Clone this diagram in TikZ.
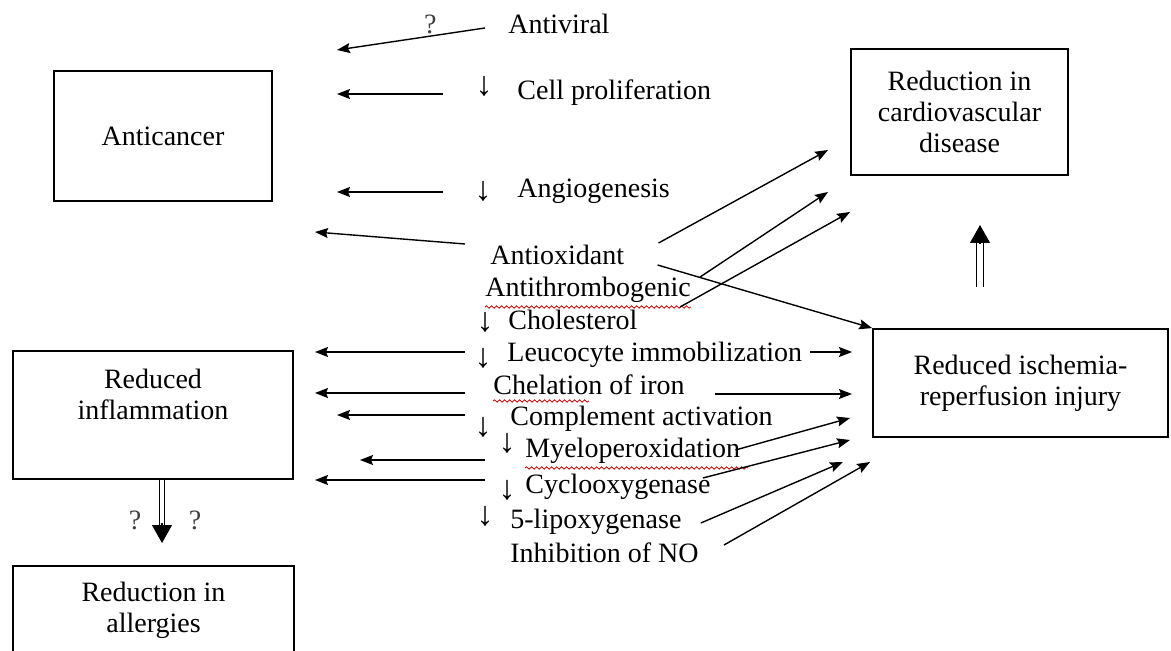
\documentclass[tikz,border=0pt]{standalone}
\usepackage{fontspec}
\setmainfont{Liberation Serif}
\usetikzlibrary{positioning,arrows.meta,calc,decorations.pathmorphing}
\tikzset{
  bloc/.style       = {draw, line width=0.9pt, align=center, inner sep=2pt,
                       font=\fontsize{14}{15.5}\selectfont},
  eticheta/.style   = {inner sep=0pt, anchor=base west, text height=10pt, text depth=3pt,
                       font=\fontsize{14}{16}\selectfont},
  jos/.style        = {inner sep=0pt, font=\fontsize{17}{17}\selectfont},
  intrebare/.style  = {inner sep=1pt, text=black!75, font=\fontsize{14}{14}\selectfont},
  sageata/.style    = {-{Stealth[length=6.5pt, width=5pt, inset=1pt]}, line width=0.7pt},
  dublu/.style      = {double, double distance=2.6pt, line width=0.6pt},
  varf/.style       = {-{Triangle[length=9pt, width=10pt]}, line width=0.6pt},
  ondulat/.style    = {red!80!black, line width=0.4pt, decorate,
                       decoration={snake, amplitude=0.6pt, segment length=2.5pt}}
}
\begin{document}
\begin{tikzpicture}[x=0.5pt, y=-0.5pt]
        \useasboundingbox (0,0) rectangle (1171,651);
        \clip (0,0) rectangle (1171,651);

        \node[bloc, minimum width=109pt, minimum height=65pt] (ac) at (163,136) {Anticancer};
        \node[bloc, minimum width=140pt, minimum height=64pt] (inf) at (153,415) {Reduced\\ inflammation\\[5pt]\mbox{}};
        \node[bloc, minimum width=140.5pt, minimum height=44pt] (alg) at (153.5,610) {Reduction in\\ allergies};
        \node[bloc, minimum width=108.5pt, minimum height=63pt] (cv) at (959.5,112) {Reduction in\\ cardiovascular\\ disease};
        \node[bloc, minimum width=147.5pt, minimum height=54pt] (isc) at (1020.5,383) {Reduced ischemia-\\ reperfusion injury};

        \node[eticheta] (antiviral) at (508,34) {Antiviral};
        \node[eticheta] (prolif) at (517,100) {Cell proliferation};
        \node[eticheta] (angio) at (517,198) {Angiogenesis};
        \node[eticheta] (antiox) at (490,265) {Antioxidant};
        \node[eticheta] (antitr) at (485,297) {Antithrombogenic};
        \node[eticheta] (chol) at (508,330) {Cholesterol};
        \node[eticheta] (leuco) at (507,362) {Leucocyte immobilization};
        \node[eticheta] (chel) at (493,395) {Chelation of iron};
        \node[eticheta] (compl) at (510,426) {Complement activation};
        \node[eticheta] (myelo) at (525,458) {Myeloperoxidation};
        \node[eticheta] (cyclo) at (525,493) {Cyclooxygenase};
        \node[eticheta] (lipo) at (510,528) {5-lipoxygenase};
        \node[eticheta] (no) at (510,562) {Inhibition of NO};

        \node[jos] (d1) at (484,86) {↓};
        \node[jos] (d2) at (483,191) {↓};
        \node[jos] (d3) at (485,322) {↓};
        \node[jos] (d4) at (483,358) {↓};
        \node[jos] (d5) at (483,427) {↓};
        \node[jos] (d6) at (507,443) {↓};
        \node[jos] (d7) at (507,490) {↓};
        \node[jos] (d8) at (485,516) {↓};

        \draw[ondulat] ($(antitr.base west)+(0,-5pt)$) -- ($(antitr.base east)+(0,-5pt)$);
        \draw[ondulat] ($(chel.base west)+(0,-3pt)$) -- ($(chel.base west)+(48pt,-3pt)$);
        \draw[ondulat] ($(myelo.base west)+(0,-5pt)$) -- ($(myelo.base east)+(4pt,-5pt)$);

        \coordinate (xa) at (337,0);
        \coordinate (xb) at (315,0);
        \coordinate (xc) at (360,0);
        \coordinate (av) at (337,50);
        \coordinate (ao) at (315,232);
        \coordinate (c1) at (828,150);
        \coordinate (c2) at (828,192);
        \coordinate (c3) at (850,212);
        \coordinate (r1) at (852,352);
        \coordinate (r2) at (852,394);
        \coordinate (r3) at (850,418);
        \coordinate (r4) at (850,440);
        \coordinate (r5) at (843,462);
        \coordinate (r6) at (870,462);
        \coordinate (s1) at (980,287);
        \coordinate (s2) at (980,225);
        \coordinate (j1) at (162,543);

        \draw[sageata] ($(antiviral.base west)+(-11.5pt,3pt)$) -- node[intrebare, pos=0.37, above=0pt] (q1) {?} (av);
        \draw[sageata] ($(prolif.base west)+(-37pt,3pt)$) -- ($(xa |- prolif.base west)+(0,3pt)$);
        \draw[sageata] ($(angio.base west)+(-37pt,3pt)$) -- ($(xa |- angio.base west)+(0,3pt)$);
        \draw[sageata] ($(antiox.base west)+(-12.5pt,10.5pt)$) -- (ao);
        \draw[sageata] ($(leuco.base west)+(-21pt,5pt)$) -- ($(xb |- leuco.base west)+(0,5pt)$);
        \draw[sageata] ($(chel.base west)+(-14pt,1pt)$) -- ($(xb |- chel.base west)+(0,1pt)$);
        \draw[sageata] ($(compl.base west)+(-22.5pt,5.5pt)$) -- ($(xa |- compl.base west)+(0,5.5pt)$);
        \draw[sageata] ($(myelo.base west)+(-20pt,-1pt)$) -- ($(xc |- myelo.base west)+(0,-1pt)$);
        \draw[sageata] ($(cyclo.base west)+(-20pt,6.5pt)$) -- ($(xb |- cyclo.base west)+(0,6.5pt)$);

        \draw[sageata] ($(antiox.base east)+(17pt,11pt)$) -- (c1);
        \draw[sageata] ($(antiox.base east)+(16.5pt,0pt)$) -- (isc.north west);
        \draw[sageata] ($(antitr.base east)+(4.5pt,10pt)$) -- (c2);
        \draw[sageata] ($(antitr.base east)+(-5.5pt,-5pt)$) -- (c3);
        \draw[sageata] ($(leuco.base east)+(4pt,5pt)$) -- (r1);
        \draw[sageata] ($(chel.base east)+(15pt,0.5pt)$) -- (r2);
        \draw[sageata] ($(myelo.base east)+(-2.5pt,4pt)$) -- (r3);
        \draw[sageata] ($(cyclo.base east)+(-4pt,7.5pt)$) -- (r4);
        \draw[sageata] ($(lipo.base east)+(9.5pt,2.5pt)$) -- (r5);
        \draw[sageata] ($(no.base east)+(12.5pt,8.5pt)$) -- (r6);

        \draw[dublu] (s1) -- ($(s2)+(0,14)$);
        \draw[varf] ($(s2)+(0,18)$) -- (s2);
        \draw[dublu, double distance=2.2pt] ($(inf.south)+(9,0)$) -- ($(j1)+(0,-16)$);
        \draw[varf] ($(j1)+(0,-20)$) -- (j1);
        \node[intrebare] (q2) at (135,520) {?};
        \node[intrebare] (q3) at (195,520) {?};
    \end{tikzpicture}
\end{document}
